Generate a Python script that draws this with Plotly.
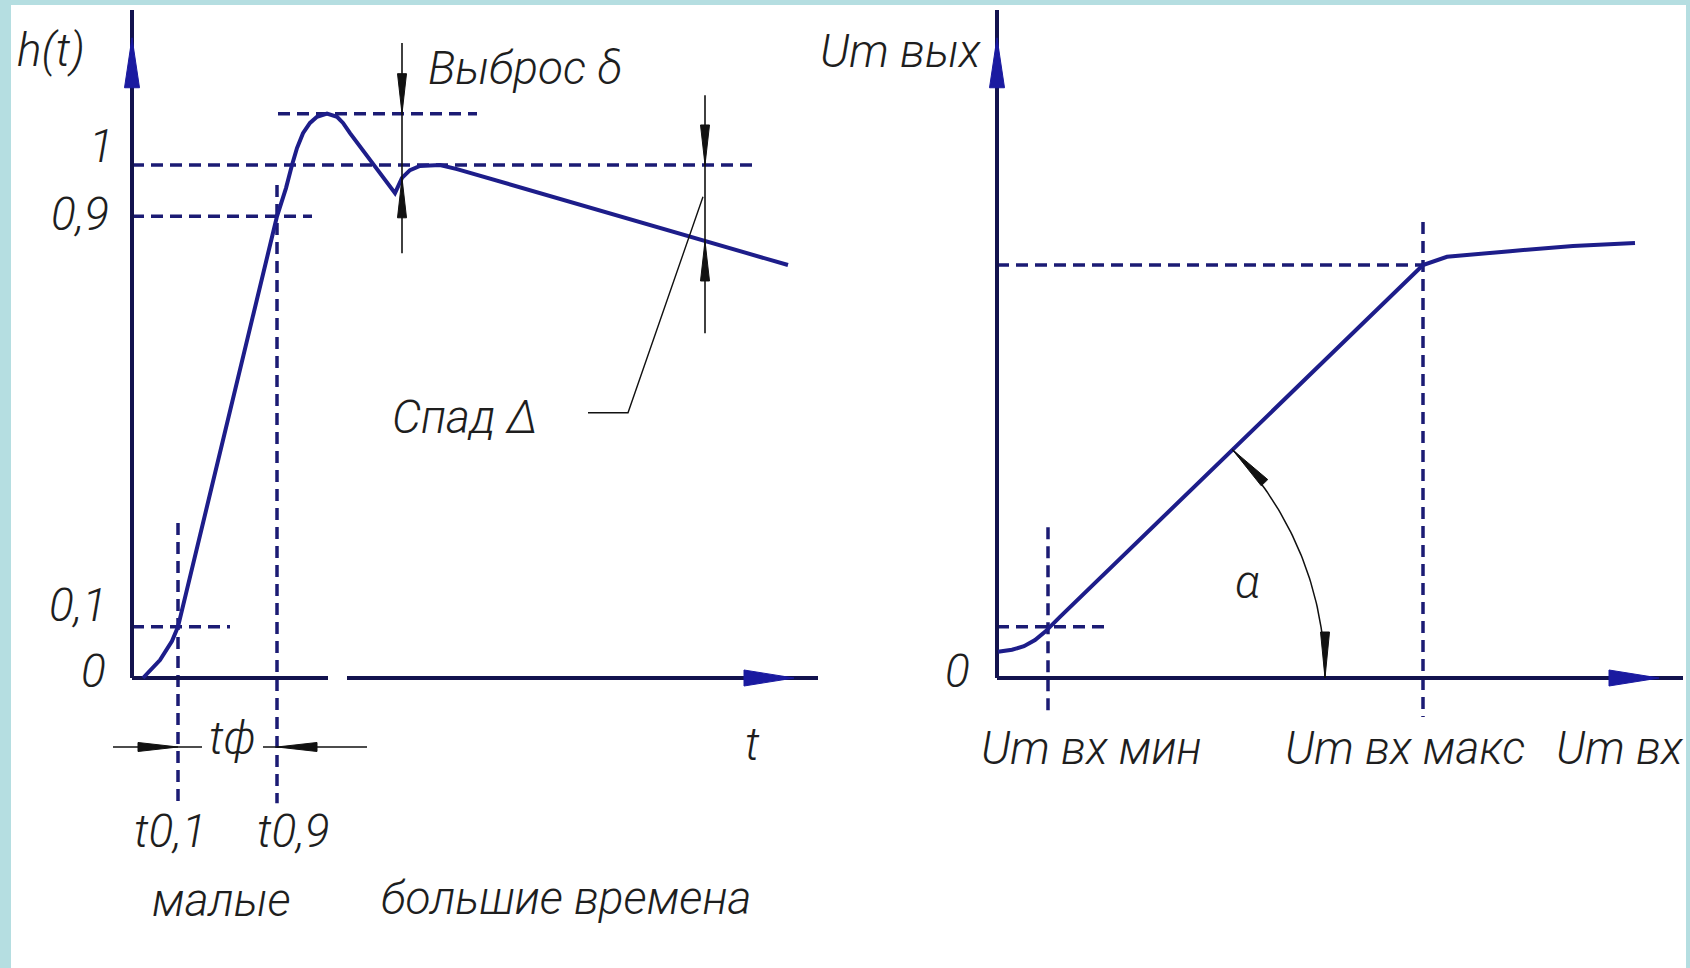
import math
import plotly.graph_objects as go

W, H = 1690, 968

# ---------------- step response h(t) (left panel) ----------------
t_resp = [0.22, 0.56, 0.80, 0.92, 2.90, 3.08, 3.20, 3.30, 3.42, 3.56, 3.70, 3.90,
          4.10, 4.22, 4.36, 4.58, 4.82, 5.26, 5.40, 5.56, 5.76, 6.16, 6.50, 13.12]
h_resp = [0.00, 0.035, 0.072, 0.10, 0.90, 0.955, 1.00, 1.033, 1.062, 1.082, 1.094, 1.10,
          1.094, 1.082, 1.062, 1.033, 1.00, 0.945, 0.975, 0.990, 0.998, 1.00, 0.992, 0.805]
h_ticks = [1.0, 0.9, 0.1, 0.0]
h_tick_text = ["1", "0,9", "0,1", "0"]
h_peak = 1.10
t_01, t_09 = 0.92, 2.90
t_dip = 5.40          # where the overshoot dimension is taken
t_drop = 11.46        # where the droop dimension is taken

# ---------------- amplitude characteristic (right panel) ----------------
u_in = [0.02, 0.30, 0.54, 0.76, 0.96, 1.10, 1.26, 8.52, 9.00, 10.26, 11.52, 12.76]
u_out = [0.051, 0.055, 0.062, 0.074, 0.090, 0.103, 0.119, 0.805, 0.821, 0.832, 0.842, 0.848]
u_min, u_max = 1.02, 8.52
v_min, v_max = 0.10, 0.805

# ---------------- canvas geometry ----------------
XR_L = [-2.64, 14.26]
XR_R = [-3.04, 13.86]
YR = [-0.5653, 1.3216]
SX = 0.5 * W / (XR_L[1] - XR_L[0])   # px per x unit
SY = H / (YR[1] - YR[0])             # px per y unit

CURVE = "#1d1d8a"
AXIS = "#12124e"
DASH = "#1b1b74"
HEAD = "#1a1aa0"
INK = "#111111"
TEXT = "#1e1e1e"
FONT = "Roboto, Liberation Sans, sans-serif"

fig = go.Figure()
shapes = []
annotations = []


def line(xs, ys, panel, color, width, dash=None):
    xa, ya = ("x", "y") if panel == 0 else ("x2", "y2")
    fig.add_trace(go.Scatter(
        x=xs, y=ys, mode="lines", xaxis=xa, yaxis=ya,
        line=dict(color=color, width=width, dash=dash),
        hoverinfo="skip", showlegend=False))


def head(x, y, ux, uy, panel, L=40, w=4.5, color=INK):
    """Filled narrow arrow head with its tip at (x, y), pointing along (ux, uy) in screen px (y up)."""
    n = math.hypot(ux, uy)
    ux, uy = ux / n, uy / n
    bx, by = -ux * L, -uy * L
    px, py = -uy * w, ux * w
    p1 = (x + (bx + px) / SX, y + (by + py) / SY)
    p2 = (x + (bx - px) / SX, y + (by - py) / SY)
    path = f"M {x},{y} L {p1[0]},{p1[1]} L {p2[0]},{p2[1]} Z"
    xa, ya = ("x", "y") if panel == 0 else ("x2", "y2")
    shapes.append(dict(type="path", path=path, xref=xa, yref=ya,
                       fillcolor=color, line=dict(color=color, width=1), layer="above"))


def label(text, x, y, panel, size=46, xanchor="center"):
    xa, ya = ("x", "y") if panel == 0 else ("x2", "y2")
    annotations.append(dict(text=text, x=x, y=y, xref=xa, yref=ya, showarrow=False,
                            xanchor=xanchor, yanchor="middle",
                            font=dict(family=FONT, size=size, color=TEXT,
                                      style="italic", weight=300)))


DASH_PAT = "12px,7px"
Y_TOP = 1.302
X_END = 13.72

# ---------- left panel ----------
# guide lines
line([0, 12.48], [1.0, 1.0], 0, DASH, 3.5, DASH_PAT)
line([0, 3.60], [0.9, 0.9], 0, DASH, 3.5, DASH_PAT)
line([2.92, 6.90], [h_peak, h_peak], 0, DASH, 3.5, DASH_PAT)
line([0, 1.96], [0.1, 0.1], 0, DASH, 3.5, DASH_PAT)
line([t_01, t_01], [0.302, -0.244], 0, DASH, 3.5, DASH_PAT)
line([t_09, t_09], [0.961, -0.244], 0, DASH, 3.5, DASH_PAT)

# axes
line([0, 0], [0, Y_TOP], 0, AXIS, 4)
line([0, 3.92], [0, 0], 0, AXIS, 4)
line([4.30, X_END], [0, 0], 0, AXIS, 4)
head(0, 1.248, 0, 1, 0, L=50, w=7.5, color=HEAD)
head(13.24, 0, 1, 0, 0, L=50, w=8, color=HEAD)

# response curve
line(t_resp, h_resp, 0, CURVE, 4)

# overshoot dimension
line([t_dip, t_dip], [1.238, 0.828], 0, INK, 1.6)
head(t_dip, h_peak, 0, -1, 0)
head(t_dip, 0.975, 0, 1, 0)

# droop dimension
h_at_drop = h_resp[-2] + (t_drop - t_resp[-2]) * (h_resp[-1] - h_resp[-2]) / (t_resp[-1] - t_resp[-2])
line([t_drop, t_drop], [1.136, 0.672], 0, INK, 1.6)
head(t_drop, 1.0, 0, -1, 0)
head(t_drop, h_at_drop, 0, 1, 0)
# leader from the droop label
line([9.12, 9.92, 11.42], [0.517, 0.517, 0.938], 0, INK, 1.4)

# rise-time dimension
Y_TF = -0.1345
line([-0.38, 1.40], [Y_TF, Y_TF], 0, INK, 1.6)
line([2.62, 4.70], [Y_TF, Y_TF], 0, INK, 1.6)
head(t_01, Y_TF, 1, 0, 0, L=40, w=4.5)
head(t_09, Y_TF, -1, 0, 0, L=40, w=4.5)

# labels
label("h(t)", -1.62, 1.224, 0)
label("1", -0.62, 1.037, 0)
label("0,9", -1.04, 0.904, 0)
label("0,1", -1.08, 0.142, 0)
label("0", -0.78, 0.014, 0)
label("Выброс δ", 7.86, 1.189, 0)
label("Спад Δ", 6.66, 0.509, 0)
label("t", 12.40, -0.129, 0)
label("tф", 2.00, -0.117, 0)
label("t0,1", 0.76, -0.298, 0)
label("t0,9", 3.22, -0.298, 0)
label("малые", 1.78, -0.433, 0)
label("большие времена", 8.68, -0.429, 0)

# ---------- right panel ----------
line([0, u_max], [v_max, v_max], 1, DASH, 3.5, DASH_PAT)
line([u_max, u_max], [0.889, -0.076], 1, DASH, 3.5, DASH_PAT)
line([0, 2.26], [v_min, v_min], 1, DASH, 3.5, DASH_PAT)
line([u_min, u_min], [0.294, -0.076], 1, DASH, 3.5, DASH_PAT)

line([0, 0], [0, Y_TOP], 1, AXIS, 4)
line([0, X_END], [0, 0], 1, AXIS, 4)
head(0, 1.248, 0, 1, 1, L=50, w=7.5, color=HEAD)
head(13.24, 0, 1, 0, 1, L=50, w=8, color=HEAD)

line(u_in, u_out, 1, CURVE, 4)

# slope angle arc, centred on the origin
slope_px = math.atan2((u_out[7] - u_out[6]) * SY, (u_in[7] - u_in[6]) * SX)
R = 328.0
n = 60
arc_x = [R * math.cos(slope_px * k / n) / SX for k in range(n + 1)]
arc_y = [R * math.sin(slope_px * k / n) / SY for k in range(n + 1)]
line(arc_x, arc_y, 1, INK, 1.5)
head(arc_x[-1], arc_y[-1], -math.sin(slope_px), math.cos(slope_px), 1, L=46, w=4.5)
head(arc_x[0], arc_y[0], 0, -1, 1, L=46, w=4.5)

label("Um вых", -1.92, 1.222, 1)
label("0", -0.80, 0.014, 1)
label("α", 5.00, 0.187, 1)
label("Um вх мин", 1.88, -0.136, 1)
label("Um вх макс", 8.16, -0.136, 1)
label("Um вх", 12.46, -0.136, 1)

# white sheet inside the tinted frame
shapes.insert(0, dict(type="rect", xref="paper", yref="paper",
                      x0=11 / W, x1=1 - 4 / W, y0=0, y1=1 - 5 / H,
                      fillcolor="white", line=dict(width=0), layer="below"))

fig.update_layout(
    width=W, height=H, autosize=False,
    margin=dict(l=0, r=0, t=0, b=0, pad=0),
    paper_bgcolor="#b5dee1", plot_bgcolor="rgba(0,0,0,0)",
    xaxis=dict(domain=[0, 0.5], range=XR_L, visible=False, fixedrange=True),
    yaxis=dict(domain=[0, 1], range=YR, visible=False, fixedrange=True),
    xaxis2=dict(domain=[0.5, 1], range=XR_R, visible=False, anchor="y2", fixedrange=True),
    yaxis2=dict(domain=[0, 1], range=YR, visible=False, anchor="x2", fixedrange=True),
    shapes=shapes, annotations=annotations,
)

fig.write_html("out.html")
